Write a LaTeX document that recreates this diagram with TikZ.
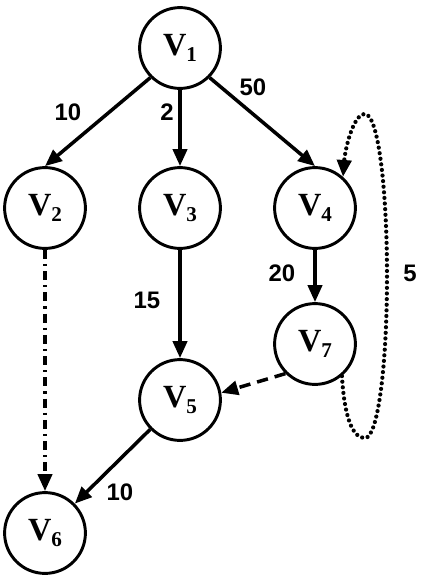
\documentclass[tikz,border=0pt]{standalone}
\usepackage{fontspec}
\setmainfont{Liberation Serif}
\newfontfamily\wfont{Liberation Sans}
\usetikzlibrary{arrows.meta}
\newcommand{\vname}[1]{V\raisebox{-0.35ex}{\fontsize{15}{15}\selectfont #1}}
\begin{document}
\begin{tikzpicture}[x=0.025cm, y=-0.025cm,
  vertex/.style={circle, draw=black, line width=2.1pt, minimum size=2.02cm, inner sep=0pt,
    font=\fontsize{23}{23}\selectfont\bfseries},
  edge/.style={line width=2.5pt, -{Triangle[length=12pt, width=10pt]}},
  weight/.style={font=\wfont\fontsize{17}{17}\selectfont\bfseries}]
\useasboundingbox (0,0) rectangle (421,579);
\node[vertex] (v1) at (180, 48) {\vname{1}};
\node[vertex] (v2) at (45, 208) {\vname{2}};
\node[vertex] (v3) at (180, 208) {\vname{3}};
\node[vertex] (v4) at (315, 208) {\vname{4}};
\node[vertex] (v7) at (315, 344) {\vname{7}};
\node[vertex] (v5) at (180, 400) {\vname{5}};
\node[vertex] (v6) at (45, 533) {\vname{6}};
\draw[edge] (v1.225) -- (v2.north);
\draw[edge] (v1) -- (v3);
\draw[edge] (v1.-45) -- (v4.north);
\draw[edge] (v4) -- (v7);
\draw[edge] (v3) -- (v5);
\draw[edge] (v5) -- (v6);
\draw[edge, dash pattern=on 8pt off 5pt] (v7.225) -- (v5.10);
\draw[edge, dash pattern=on 6.5pt off 3.5pt on 1.6pt off 3.5pt] (v2) -- (v6);
% dotted loop from v7 back up to v4
\coordinate (lb) at (365, 438);
\coordinate (lr) at (387, 276);
\coordinate (lt) at (365, 114);
\draw[edge, line width=3pt, line cap=round, dash pattern=on 0pt off 4pt]
  (v7.-50) .. controls (345, 425) and (355, 438) .. (lb)
  .. controls (378, 438) and (387, 365) .. (lr)
  .. controls (387, 187) and (378, 114) .. (lt)
  .. controls (353, 114) and (345, 150) .. (v4.48);
\node[weight] (w12) at (68, 112) {10};
\node[weight] (w13) at (167, 112) {2};
\node[weight] (w14) at (253, 87) {50};
\node[weight] (w47) at (282, 273) {20};
\node[weight] (w35) at (147, 300) {15};
\node[weight] (w74) at (410, 273) {5};
\node[weight] (w56) at (120, 492) {10};
\end{tikzpicture}
\end{document}
